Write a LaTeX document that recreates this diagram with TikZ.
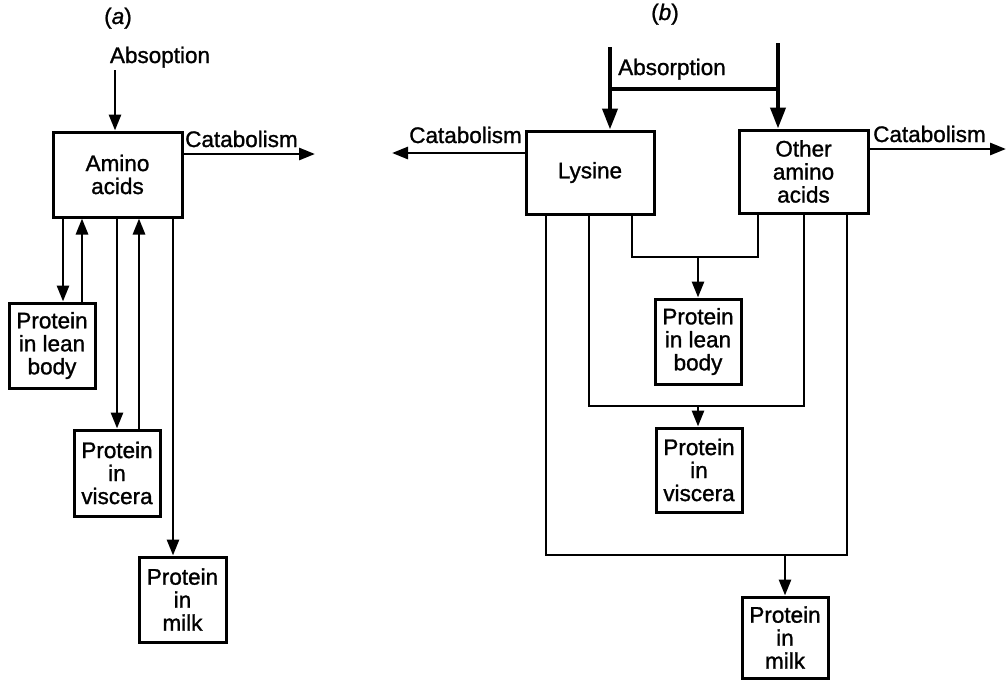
\documentclass[tikz,border=0pt]{standalone}
\usepackage{fontspec}
\setmainfont[FakeBold=1.2,AutoFakeBold=1.2]{Liberation Sans}
\usetikzlibrary{arrows.meta}
\tikzset{
  pool/.style={draw,line width=3pt,align=center,inner sep=0pt},
  flow/.style={line width=2.8pt},
  inflow/.style={line width=4pt},
}
\begin{document}
\begin{tikzpicture}[x=1pt,y=-1pt,>={Triangle[length=16pt,width=12pt]},
  font=\fontsize{22.5}{23}\selectfont\bfseries]
  \useasboundingbox (0,0) rectangle (1008,681);
  % (a)
  \node[anchor=base] (capA) at (118,24) {(\textit{a})};
  \node[pool,minimum width=129pt,minimum height=85pt] (amino) at (117.5,174.5) {Amino\\acids};
  \node[pool,minimum width=86pt,minimum height=85pt] (leanA) at (52,345.5) {Protein\\in lean\\body};
  \node[pool,minimum width=86pt,minimum height=86pt] (visA) at (117,473) {Protein\\in\\viscera};
  \node[pool,minimum width=87pt,minimum height=85pt] (milkA) at (182.5,599.5) {Protein\\in\\milk};
  \node[anchor=base] (absA) at (160,63) {Absoption};
  \coordinate (inA) at (115,70);
  \coordinate (outA) at (315,154);
  \draw[flow,->] (inA) -- (inA |- amino.north);
  \draw[flow,->] (amino.east |- outA) -- (outA);
  \node[anchor=base west,inner sep=1pt] (catA) at (184,147) {Catabolism};
  \draw[flow,->] ([xshift=-54.5pt]amino.south) -- ([xshift=-54.5pt]amino.south |- leanA.north);
  \draw[flow,<-] ([xshift=-35.5pt]amino.south) -- ([xshift=-35.5pt]amino.south |- leanA.north);
  \draw[flow,->] ([xshift=-0.5pt]amino.south) -- ([xshift=-0.5pt]amino.south |- visA.north);
  \draw[flow,<-] ([xshift=21.5pt]amino.south) -- ([xshift=21.5pt]amino.south |- visA.north);
  \draw[flow,->] ([xshift=55.5pt]amino.south) -- ([xshift=55.5pt]amino.south |- milkA.north);
  % (b)
  \node[anchor=base] (capB) at (665,20) {(\textit{b})};
  \node[pool,minimum width=128pt,minimum height=83pt] (lys) at (590,172.5) {Lysine};
  \node[pool,minimum width=129pt,minimum height=83pt] (oth) at (803.5,171.5) {Other\\amino\\acids};
  \node[pool,minimum width=86pt,minimum height=85pt] (leanB) at (698,341.5) {Protein\\in lean\\body};
  \node[pool,minimum width=86pt,minimum height=84pt] (visB) at (699,470) {Protein\\in\\viscera};
  \node[pool,minimum width=86pt,minimum height=81pt] (milkB) at (785,637.5) {Protein\\in\\milk};
  \node[anchor=base west,inner sep=1pt] (absB) at (617,75) {Absorption};
  \coordinate (inL) at (610,47);
  \coordinate (inR) at (778,43);
  \draw[inflow,-{Triangle[length=21pt,width=15pt]}] (inL) -- (inL |- lys.north);
  \draw[inflow,-{Triangle[length=21pt,width=15pt]}] (inR) -- (inR |- oth.north);
  \draw[inflow] (inL |- 0,89) -- (inR |- 0,89);
  \coordinate (outL) at (392,153);
  \coordinate (outR) at (1006,149);
  \draw[flow,->] (lys.west |- outL) -- (outL);
  \draw[flow,->] (oth.east |- outR) -- (outR);
  \node[anchor=base east,inner sep=1pt] (catL) at (523,143) {Catabolism};
  \node[anchor=base west,inner sep=1pt] (catR) at (872,142) {Catabolism};
  % pools to proteins
  \coordinate (jlean) at (698,257);
  \coordinate (jvis) at (698,406);
  \coordinate (jmilk) at (785,555);
  \draw[flow] ([xshift=42pt]lys.south) |- (jlean) -| ([xshift=-45.5pt]oth.south);
  \draw[flow] ([xshift=-1pt]lys.south) |- (jvis) -| ([xshift=0.5pt]oth.south);
  \draw[flow] ([xshift=-44pt]lys.south) |- (jmilk) -| ([xshift=43.5pt]oth.south);
  \draw[flow,->] (jlean) -- (leanB.north);
  \draw[flow,->] (jvis) -- (jvis |- visB.north);
  \draw[flow,->] (jmilk) -- (milkB.north);
\end{tikzpicture}
\end{document}
